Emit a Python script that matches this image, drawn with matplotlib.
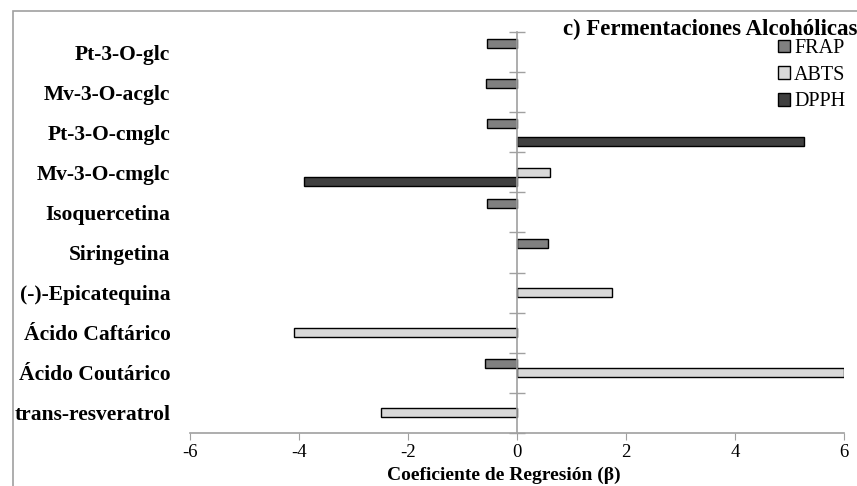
import matplotlib
matplotlib.use("Agg")
import matplotlib.pyplot as plt
import numpy as np
from matplotlib.patches import Rectangle

categories = ["Pt-3-O-glc", "Mv-3-O-acglc", "Pt-3-O-cmglc", "Mv-3-O-cmglc",
              "Isoquercetina", "Siringetina", "(-)-Epicatequina",
              "Ácido Caftárico", "Ácido Coutárico", "trans-resveratrol"]
frap = [-0.55, -0.57, -0.55, 0.0, -0.55, 0.56, 0.0, 0.0, -0.59, 0.0]
abts = [0.0, 0.0, 0.0, 0.61, 0.0, 0.0, 1.75, -4.10, 6.0, -2.50]
dpph = [0.0, 0.0, 5.27, -3.91, 0.0, 0.0, 0.0, 0.0, 0.0, 0.0]
series_names = ["FRAP", "ABTS", "DPPH"]
series_colors = ["#808080", "#d9d9d9", "#404040"]
xticks = [-6, -4, -2, 0, 2, 4, 6]

plt.rcParams['font.family'] = ['Liberation Serif', 'DejaVu Serif']

W, H = 857, 486
fig = plt.figure(figsize=(W / 100, H / 100), dpi=100)
ax = fig.add_axes([190 / W, 1 - 433 / H, (844 - 190) / W, (433 - 32) / H])

n = len(categories)
centers = n - 0.5 - np.arange(n)  # top category first
bh = 1 / 4.5
for k, (vals, name, col) in enumerate(zip([frap, abts, dpph], series_names, series_colors)):
    y = centers + (1 - k) * bh
    v = np.array(vals)
    mask = v != 0
    ax.barh(y[mask], v[mask], height=bh, color=col, edgecolor='black',
            linewidth=1.0, label=name, zorder=3)

ax.set_xlim(-6, 6)
ax.set_ylim(0, n)
ax.set_xticks(xticks)
ax.set_xticklabels([str(t) for t in xticks], fontsize=13.5)
ax.tick_params(axis='x', direction='out', length=5, color='#a0a0a0', pad=3)

for s in ['top', 'right']:
    ax.spines[s].set_visible(False)
ax.spines['bottom'].set_color('#a0a0a0')
ax.spines['bottom'].set_linewidth(1.2)
ax.spines['left'].set_position(('data', 0))
ax.spines['left'].set_color('#a0a0a0')
ax.spines['left'].set_linewidth(1.2)
ax.spines['left'].set_zorder(4)
ax.set_yticks(np.arange(0, n + 1))
ax.set_yticklabels([])
ax.tick_params(axis='y', direction='inout', length=12, color='#a0a0a0', width=1.0)

sec = ax.secondary_yaxis(0.0)
sec.set_yticks(centers)
sec.set_yticklabels(categories, fontsize=15.5, fontweight='bold')
sec.tick_params(length=0, pad=14)
sec.spines['left'].set_visible(False)

ax.set_xlabel("Coeficiente de Regresión (β)", fontsize=14, fontweight='bold')
ax.xaxis.set_label_coords((504 - 190) / (844 - 190), -(475 - 433) / (433 - 32))
ax.xaxis.label.set_va('center')

fig.text(857 / W, 1 - 29 / H, "c) Fermentaciones Alcohólicas", fontsize=16.5,
         fontweight='bold', ha='right', va='center')

leg = fig.legend(loc='upper left', bbox_to_anchor=(778 / W, 1 - 39 / H), frameon=False,
                 fontsize=14.5, handlelength=0.6, handleheight=0.6, handletextpad=0.2,
                 labelspacing=0.38, borderpad=0, borderaxespad=0)

fig.patches.append(Rectangle((13 / W, -0.1), 1.2, 1 - 11 / H + 0.1, transform=fig.transFigure,
                             fill=False, edgecolor='#a0a0a0', linewidth=1.2))

fig.savefig("out.png", dpi=100)
